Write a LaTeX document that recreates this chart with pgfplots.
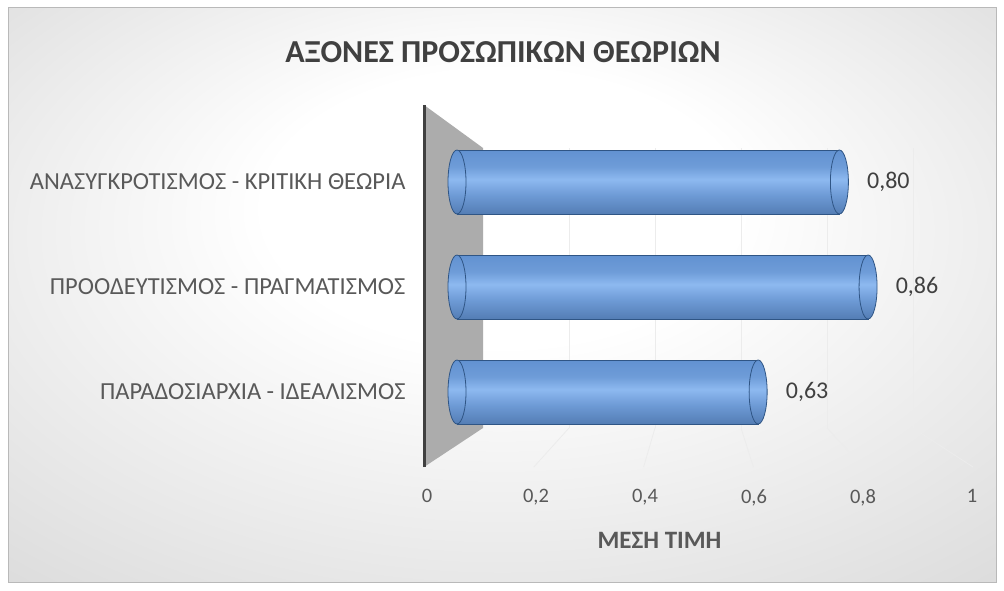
\documentclass[border=0pt]{standalone}
\usepackage{pgfplots}
\pgfplotsset{compat=1.18}
\usepackage{fontspec}
\setmainfont{Carlito}
\definecolor{txt}{HTML}{595959}
\definecolor{ttl}{HTML}{404040}
\definecolor{c0}{HTML}{2E4A73}
\definecolor{c1}{HTML}{3D6397}
\definecolor{c2}{HTML}{6E9BD6}
\definecolor{c3}{HTML}{8DB9F0}
\definecolor{c4}{HTML}{6E9CD8}
\definecolor{c5}{HTML}{5587CA}
\definecolor{c6}{HTML}{3F6DAD}
\definecolor{edge}{HTML}{2F5585}
\definecolor{bgout}{HTML}{CBCBCB}
\pgfdeclareverticalshading{cyl}{100bp}{color(0bp)=(c0); color(12bp)=(c1); color(40bp)=(c2); color(52bp)=(c3); color(62bp)=(c4); color(88bp)=(c5); color(100bp)=(c6)}
\pgfdeclareradialshading{bg}{\pgfpoint{0bp}{10bp}}{color(0bp)=(white); color(12bp)=(white); color(50bp)=(bgout)}
\pgfdeclareplotmark{cap}{%
  \pgfpathellipse{\pgfpointorigin}{\pgfpoint{9pt}{0pt}}{\pgfpoint{0pt}{32pt}}%
  \pgfshadepath{cyl}{0}\pgfusepath{stroke}}
\pgfplotsset{
  cylbar/.style={xbar, bar width=64pt, bar shift=0pt, shading=cyl, draw=edge, line width=0.8pt,
    point meta=x,
    nodes near coords={\pgfmathprintnumber[fixed,fixed zerofill,precision=2,use comma,assume math mode=true]{\pgfplotspointmeta}},
    nodes near coords style={anchor=west, xshift=24pt, font=\fontsize{24}{28}\selectfont, text=ttl}},
}
\begin{document}
\begin{tikzpicture}[x=1pt,y=1pt]
\useasboundingbox (0,0) rectangle (1004,590);
\fill[white] (0,0) rectangle (1004,590);
\shade[shading=bg] (8,8) rectangle (996,582);
\draw[gray!55, line width=1pt] (8,8) rectangle (996,582);
% back wall grid
\begin{axis}[at={(483pt,162pt)}, anchor=south west, scale only axis,
  width=430pt, height=280pt, xmin=0, xmax=1, ymin=0, ymax=1,
  axis line style={draw=none}, xtick={0.2,0.4,0.6,0.8,1}, ytick=\empty,
  xticklabels={}, major tick length=0pt, xmajorgrids,
  grid style={white!85!gray, line width=0.8pt}]
\addplot[draw=none] coordinates {(0,0) (1,1)};
\end{axis}
\foreach \v in {0.2,0.4,0.6,0.8,1} \draw[white!85!gray, line width=0.8pt] ({483+430*\v},162) -- ({424+549*\v},123);
% side wall
\fill[fill=gray!65] (424,485) -- (483,442) -- (483,162) -- (424,123) -- cycle;
\draw[ttl, line width=3pt] (424,123) -- (424,485);
% tick axis
\begin{axis}[at={(427pt,104pt)}, anchor=south west, scale only axis,
  width=545pt, height=10pt, xmin=0, xmax=1, ymin=0, ymax=1,
  axis line style={draw=none}, ytick=\empty,
  xtick={0,0.2,0.4,0.6,0.8,1}, major tick length=0pt,
  /pgf/number format/use comma, /pgf/number format/assume math mode=true,
  xticklabel style={font=\fontsize{20.5}{24}\selectfont, text=txt},
  xlabel={ΜΕΣΗ ΤΙΜΗ},
  xlabel style={font=\bfseries\fontsize{25}{29}\selectfont, text=txt, xshift=-40pt, yshift=-19pt}]
\addplot[draw=none] coordinates {(0,0) (1,1)};
\end{axis}
% bars
\begin{axis}[at={(457pt,135pt)}, anchor=south west, scale only axis,
  width=478pt, height=336pt, xmin=0, xmax=1, ymin=-0.6, ymax=2.6,
  axis line style={draw=none}, xtick=\empty,
  ytick={0,1,2}, major tick length=0pt,
  yticklabels={ΠΑΡΑΔΟΣΙΑΡΧΙΑ - ΙΔΕΑΛΙΣΜΟΣ, ΠΡΟΟΔΕΥΤΙΣΜΟΣ - ΠΡΑΓΜΑΤΙΣΜΟΣ, ΑΝΑΣΥΓΚΡΟΤΙΣΜΟΣ - ΚΡΙΤΙΚΗ ΘΕΩΡΙΑ},
  yticklabel style={font=\fontsize{24.5}{28}\selectfont, text=txt, anchor=east, xshift=-48pt},
  clip=false]
\addplot[only marks, mark=cap, draw=edge, line width=0.8pt] coordinates {(0,0) (0,1) (0,2)};
\addplot[cylbar] coordinates {(0.63,0)};
\addplot[cylbar] coordinates {(0.86,1)};
\addplot[cylbar] coordinates {(0.80,2)};
\addplot[only marks, mark=cap, draw=edge, line width=0.8pt] coordinates {(0.63,0) (0.86,1) (0.80,2)};
\end{axis}
\node[font=\bfseries\fontsize{32}{38}\selectfont, text=ttl] at (503,538) {ΑΞΟΝΕΣ ΠΡΟΣΩΠΙΚΩΝ ΘΕΩΡΙΩΝ};
\end{tikzpicture}
\end{document}
